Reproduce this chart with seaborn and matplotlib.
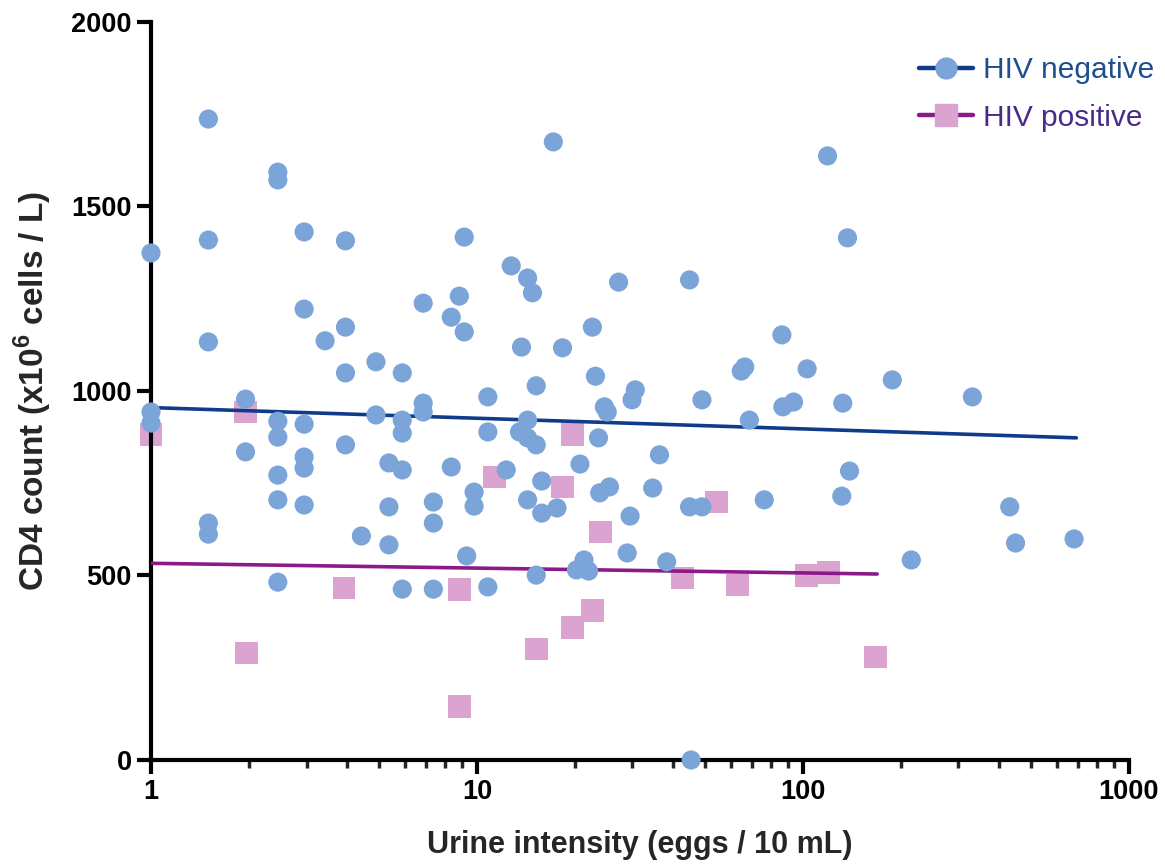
import numpy as np
import pandas as pd
import matplotlib
matplotlib.use("Agg")
import matplotlib.pyplot as plt
import seaborn as sns
from matplotlib.lines import Line2D
from matplotlib.ticker import LogLocator, FixedLocator, NullFormatter

# HIV negative: urine egg count vs CD4 count
neg_x = [1, 1, 1,
         1.5, 1.5, 1.5, 1.5, 1.5,
         1.95, 1.95,
         2.45, 2.45, 2.45, 2.45, 2.45, 2.45, 2.45,
         2.95, 2.95, 2.95, 2.95, 2.95, 2.95,
         3.42,
         3.95, 3.95, 3.95, 3.95,
         4.42, 4.9, 4.9,
         5.37, 5.37, 5.37,
         5.9, 5.9, 5.9, 5.9, 5.9,
         6.84, 6.84, 6.84,
         7.35, 7.35, 7.35,
         8.34, 8.34, 8.83,
         9.14, 9.14, 9.3,
         9.8, 9.8,
         10.8, 10.8, 10.8,
         12.3, 12.74, 13.5, 13.7,
         14.3, 14.8, 14.3, 14.3, 14.3,
         15.2, 15.2, 15.8, 15.8, 15.2,
         17.15, 17.6, 18.3,
         20.2, 20.7, 21.3, 22.0,
         22.6, 23.1, 23.6, 23.8,
         24.6, 25.1, 25.5,
         27.2, 28.9, 29.5, 29.9, 30.6,
         34.6, 36.3, 38.2,
         44.9, 44.9, 45.4,
         49, 49,
         64.7, 66.3, 68.5, 76.1,
         86.2, 86.8, 93.6,
         103, 119,
         131.6, 132.5, 137, 139,
         188, 215, 331, 431, 449, 679]
neg_y = [1374, 943, 913,
         1737, 1409, 1133, 642, 612,
         978, 835,
         1593, 1572, 918, 875, 772, 705, 482,
         1431, 1222, 910, 821, 791, 691,
         1136,
         1407, 1173, 1049, 854,
         607, 1079, 935,
         805, 686, 583,
         1049, 921, 886, 786, 463,
         1238, 967, 943,
         699, 642, 463,
         1200, 794, 1257,
         1417, 1160, 553,
         726, 688,
         984, 889, 469,
         786, 1339, 889, 1119,
         1306, 1266, 921, 873, 705,
         1014, 854, 756, 669, 501,
         1675, 683, 1117,
         515, 802, 542, 512,
         1173, 1040, 873, 724,
         957, 943, 740,
         1295, 561, 661, 976, 1003,
         737, 827, 537,
         1301, 686, 0,
         976, 686,
         1054, 1065, 921, 705,
         1152, 957, 970,
         1060, 1637,
         715, 967, 1415, 783,
         1030, 542, 984, 686, 588, 599]

# HIV positive
pos_x = [1, 1.95, 1.96, 3.91, 8.83, 8.83, 11.3, 15.2, 18.3, 19.6, 19.6,
         22.6, 24.0, 42.8, 54.3, 63.0, 102.5, 120, 167]
pos_y = [881, 943, 290, 466, 461, 146, 767, 301, 740, 883, 360,
         404, 618, 493, 699, 474, 501, 507, 279]

# regression lines (end points)
neg_fit_x = [1, 690]
neg_fit_y = [955, 873]
pos_fit_x = [1, 169]
pos_fit_y = [533, 504]

neg_color = "#7BA4D8"
pos_color = "#DBA3D0"
neg_line = "#0F3C8A"
pos_line = "#8A1A88"

sns.set_style("ticks")
plt.rcParams["font.family"] = ["Liberation Sans", "DejaVu Sans"]
plt.rcParams["mathtext.fontset"] = "custom"
plt.rcParams["mathtext.rm"] = "Liberation Sans:bold"
plt.rcParams["mathtext.bf"] = "Liberation Sans:bold"

df_neg = pd.DataFrame({"x": neg_x, "y": neg_y})
df_pos = pd.DataFrame({"x": pos_x, "y": pos_y})

fig = plt.figure(figsize=(11.65, 8.65), dpi=100)
ax = fig.add_axes([0.1296, 0.1214, 0.8394, 0.8532])

sns.scatterplot(data=df_pos, x="x", y="y", ax=ax, marker="s", s=270,
                color=pos_color, edgecolor="none", linewidth=0, zorder=2, clip_on=False)
sns.lineplot(x=neg_fit_x, y=neg_fit_y, ax=ax, color=neg_line, linewidth=2.6, zorder=3)
sns.lineplot(x=pos_fit_x, y=pos_fit_y, ax=ax, color=pos_line, linewidth=2.6, zorder=3)
sns.scatterplot(data=df_neg, x="x", y="y", ax=ax, marker="o", s=190,
                color=neg_color, edgecolor="none", linewidth=0, zorder=4, clip_on=False)

ax.set_xscale("log")
ax.set_xlim(1, 1000)
ax.set_ylim(0, 2000)
ax.set_xticks([1, 10, 100, 1000])
ax.set_xticklabels(["1", "10", "100", "1000"])
ax.xaxis.set_minor_locator(LogLocator(base=10, subs=np.arange(2, 10)))
ax.xaxis.set_minor_formatter(NullFormatter())
ax.yaxis.set_major_locator(FixedLocator([0, 500, 1000, 1500, 2000]))

for side in ["top", "right"]:
    ax.spines[side].set_visible(False)
for side in ["left", "bottom"]:
    ax.spines[side].set_linewidth(3)
    ax.spines[side].set_color("black")

ax.tick_params(axis="both", which="major", direction="out", length=10, width=3,
               labelsize=19.5, colors="black", pad=4)
ax.tick_params(axis="x", which="minor", direction="out", length=6, width=2.5)
for lab in ax.get_xticklabels() + ax.get_yticklabels():
    lab.set_fontweight("bold")

ax.set_xlabel("Urine intensity (eggs / 10 mL)", fontsize=22, fontweight="bold", labelpad=18)
ax.set_ylabel(r"CD4 count (x10$^{6}$ cells / L)", fontsize=24, fontweight="bold", labelpad=12)

handles = [
    Line2D([0], [0], color=neg_line, lw=3.2, marker="o", markersize=15,
           markerfacecolor=neg_color, markeredgecolor=neg_color),
    Line2D([0], [0], color=pos_line, lw=3.2, marker="s", markersize=16,
           markerfacecolor=pos_color, markeredgecolor=pos_color),
]
ax.legend(handles, ["HIV negative", "HIV positive"], loc="upper left",
          bbox_to_anchor=(0.766, 0.966), bbox_transform=fig.transFigure,
          frameon=False, fontsize=21.5, handlelength=1.8, handletextpad=0.35,
          labelspacing=0.65, borderpad=0.4,
          labelcolor=["#1F4E8F", "#4A2A8C"])

fig.savefig("out.png", dpi=100)
